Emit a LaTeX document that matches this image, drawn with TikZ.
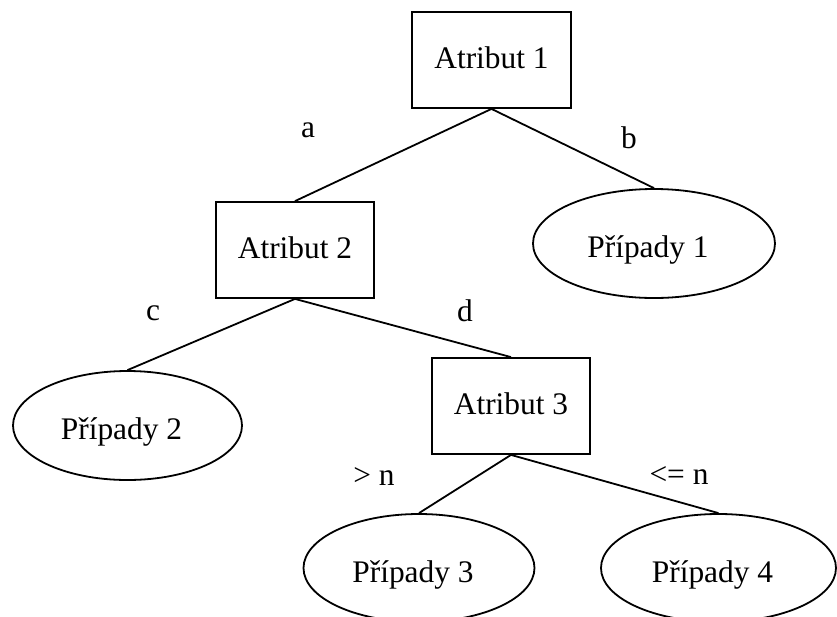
\documentclass[tikz,border=0pt]{standalone}
\usepackage{fontspec}
\setmainfont{Liberation Serif}
\usetikzlibrary{shapes.geometric}
\begin{document}
\begin{tikzpicture}[x=0.5pt,y=-0.5pt,
  every node/.style={font=\fontsize{15.7}{19}\selectfont},
  attr/.style={draw, line width=0.9pt, rectangle, minimum width=79pt,
    minimum height=48pt, inner sep=0pt, text height=9.5pt, text depth=1.5pt},
  cases/.style={draw, line width=0.9pt, ellipse, inner sep=0pt,
    text height=16pt, text depth=2pt, execute at end node={\hspace{6pt}}},
  branch/.style={line width=0.9pt},
  lbl/.style={anchor=base, inner sep=0pt}]
  \useasboundingbox (0,0) rectangle (837,617);
  \clip (0,0) rectangle (837,617);

  % decision nodes
  \node[attr, minimum width=79.5pt] (a1) at (491.5,60) {Atribut 1};
  \node[attr] (a2) at (295,250) {Atribut 2};
  \node[attr] (a3) at (511,406) {Atribut 3};

  % leaves
  \node[cases, minimum width=121pt, minimum height=54.5pt] (p1) at (654,243.5) {Případy 1};
  \node[cases, minimum width=114.5pt, minimum height=54.5pt] (p2) at (127.5,425.5) {Případy 2};
  \node[cases, minimum width=115.5pt, minimum height=54pt] (p3) at (419,568) {Případy 3};
  \node[cases, minimum width=117.5pt, minimum height=54pt] (p4) at (718.5,568) {Případy 4};

  % branches
  \draw[branch] (a1.south) -- (a2.north);
  \draw[branch] (a1.south) -- (p1.north);
  \draw[branch] (a2.south) -- (p2.north);
  \draw[branch] (a2.south) -- (a3.north);
  \draw[branch] (a3.south) -- (p3.north);
  \draw[branch] (a3.south) -- (p4.north);

  % branch labels
  \node[lbl] (la) at (308,137) {a};
  \node[lbl] (lb) at (629,148) {b};
  \node[lbl] (lc) at (153,320) {c};
  \node[lbl] (ld) at (465,321) {d};
  \node[lbl] (lgt) at (374,485) {> n};
  \node[lbl] (lle) at (679,484) {<= n};
\end{tikzpicture}
\end{document}
